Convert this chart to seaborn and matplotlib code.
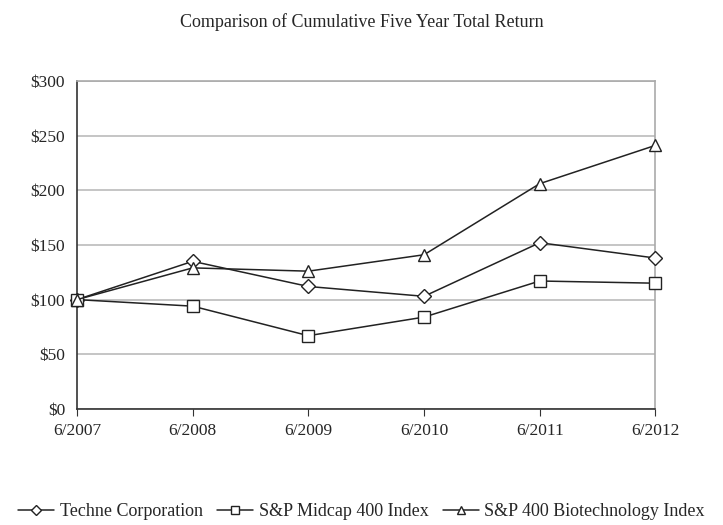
import matplotlib.pyplot as plt
import seaborn as sns
import pandas as pd

# значения читаем с картинки
years = ['6/2007', '6/2008', '6/2009', '6/2010', '6/2011', '6/2012']
techne = [100, 135, 112, 103, 152, 138]
midcap = [100, 94, 67, 84, 117, 115]
biotech = [100, 129, 126, 141, 206, 241]

series_names = ['Techne Corporation', 'S&P Midcap 400 Index', 'S&P 400 Biotechnology Index']
markers = ['D', 's', '^']
msizes = [7, 8.5, 8.5]

df = pd.DataFrame({'year': years * 3,
                   'pos': list(range(len(years))) * 3,
                   'value': techne + midcap + biotech,
                   'series': [n for n in series_names for _ in years]})

sns.set_style('white')
plt.rcParams['font.family'] = ['Liberation Serif', 'DejaVu Serif']

fig = plt.figure(figsize=(7.23, 5.25), dpi=100)
ax = fig.add_axes([0.1065, 0.221, 0.8, 0.625])

for name, m, ms in zip(series_names, markers, msizes):
    d = df[df['series'] == name]
    sns.lineplot(data=d, x='pos', y='value', ax=ax, color='#222222', linewidth=1.1,
                 marker=m, markersize=ms, markerfacecolor='white', markeredgecolor='#222222',
                 markeredgewidth=1.0, label=name, zorder=3, clip_on=False)

ax.set_xlim(0, len(years) - 1)
ax.set_ylim(0, 300)
ax.set_xticks(range(len(years)))
ax.set_xticklabels(years, fontsize=12.5)
ax.set_yticks(range(0, 301, 50))
ax.set_yticklabels(['$' + str(v) for v in range(0, 301, 50)], fontsize=12.5)
ax.yaxis.grid(True, color='#bbbbbb', linewidth=1.2)
ax.set_xlabel('')
ax.set_ylabel('')
ax.tick_params(axis='x', bottom=True, length=5, color='#333333', pad=5)
ax.tick_params(axis='y', left=False, pad=5)
for s in ['left', 'bottom']:
    ax.spines[s].set_color('#333333')
    ax.spines[s].set_linewidth(1.2)
for s in ['top', 'right']:
    ax.spines[s].set_color('#aaaaaa')
    ax.spines[s].set_linewidth(1.2)

fig.suptitle('Comparison of Cumulative Five Year Total Return', y=0.975, fontsize=13)

ax.get_legend().remove()
h, l = ax.get_legend_handles_labels()
fig.legend(h, l, loc='center', bbox_to_anchor=(0.5, 0.025), ncol=3, frameon=False,
           fontsize=13, handlelength=2.0, handletextpad=0.3, columnspacing=0.8, markerscale=0.75)

fig.savefig('out.png', dpi=100)
